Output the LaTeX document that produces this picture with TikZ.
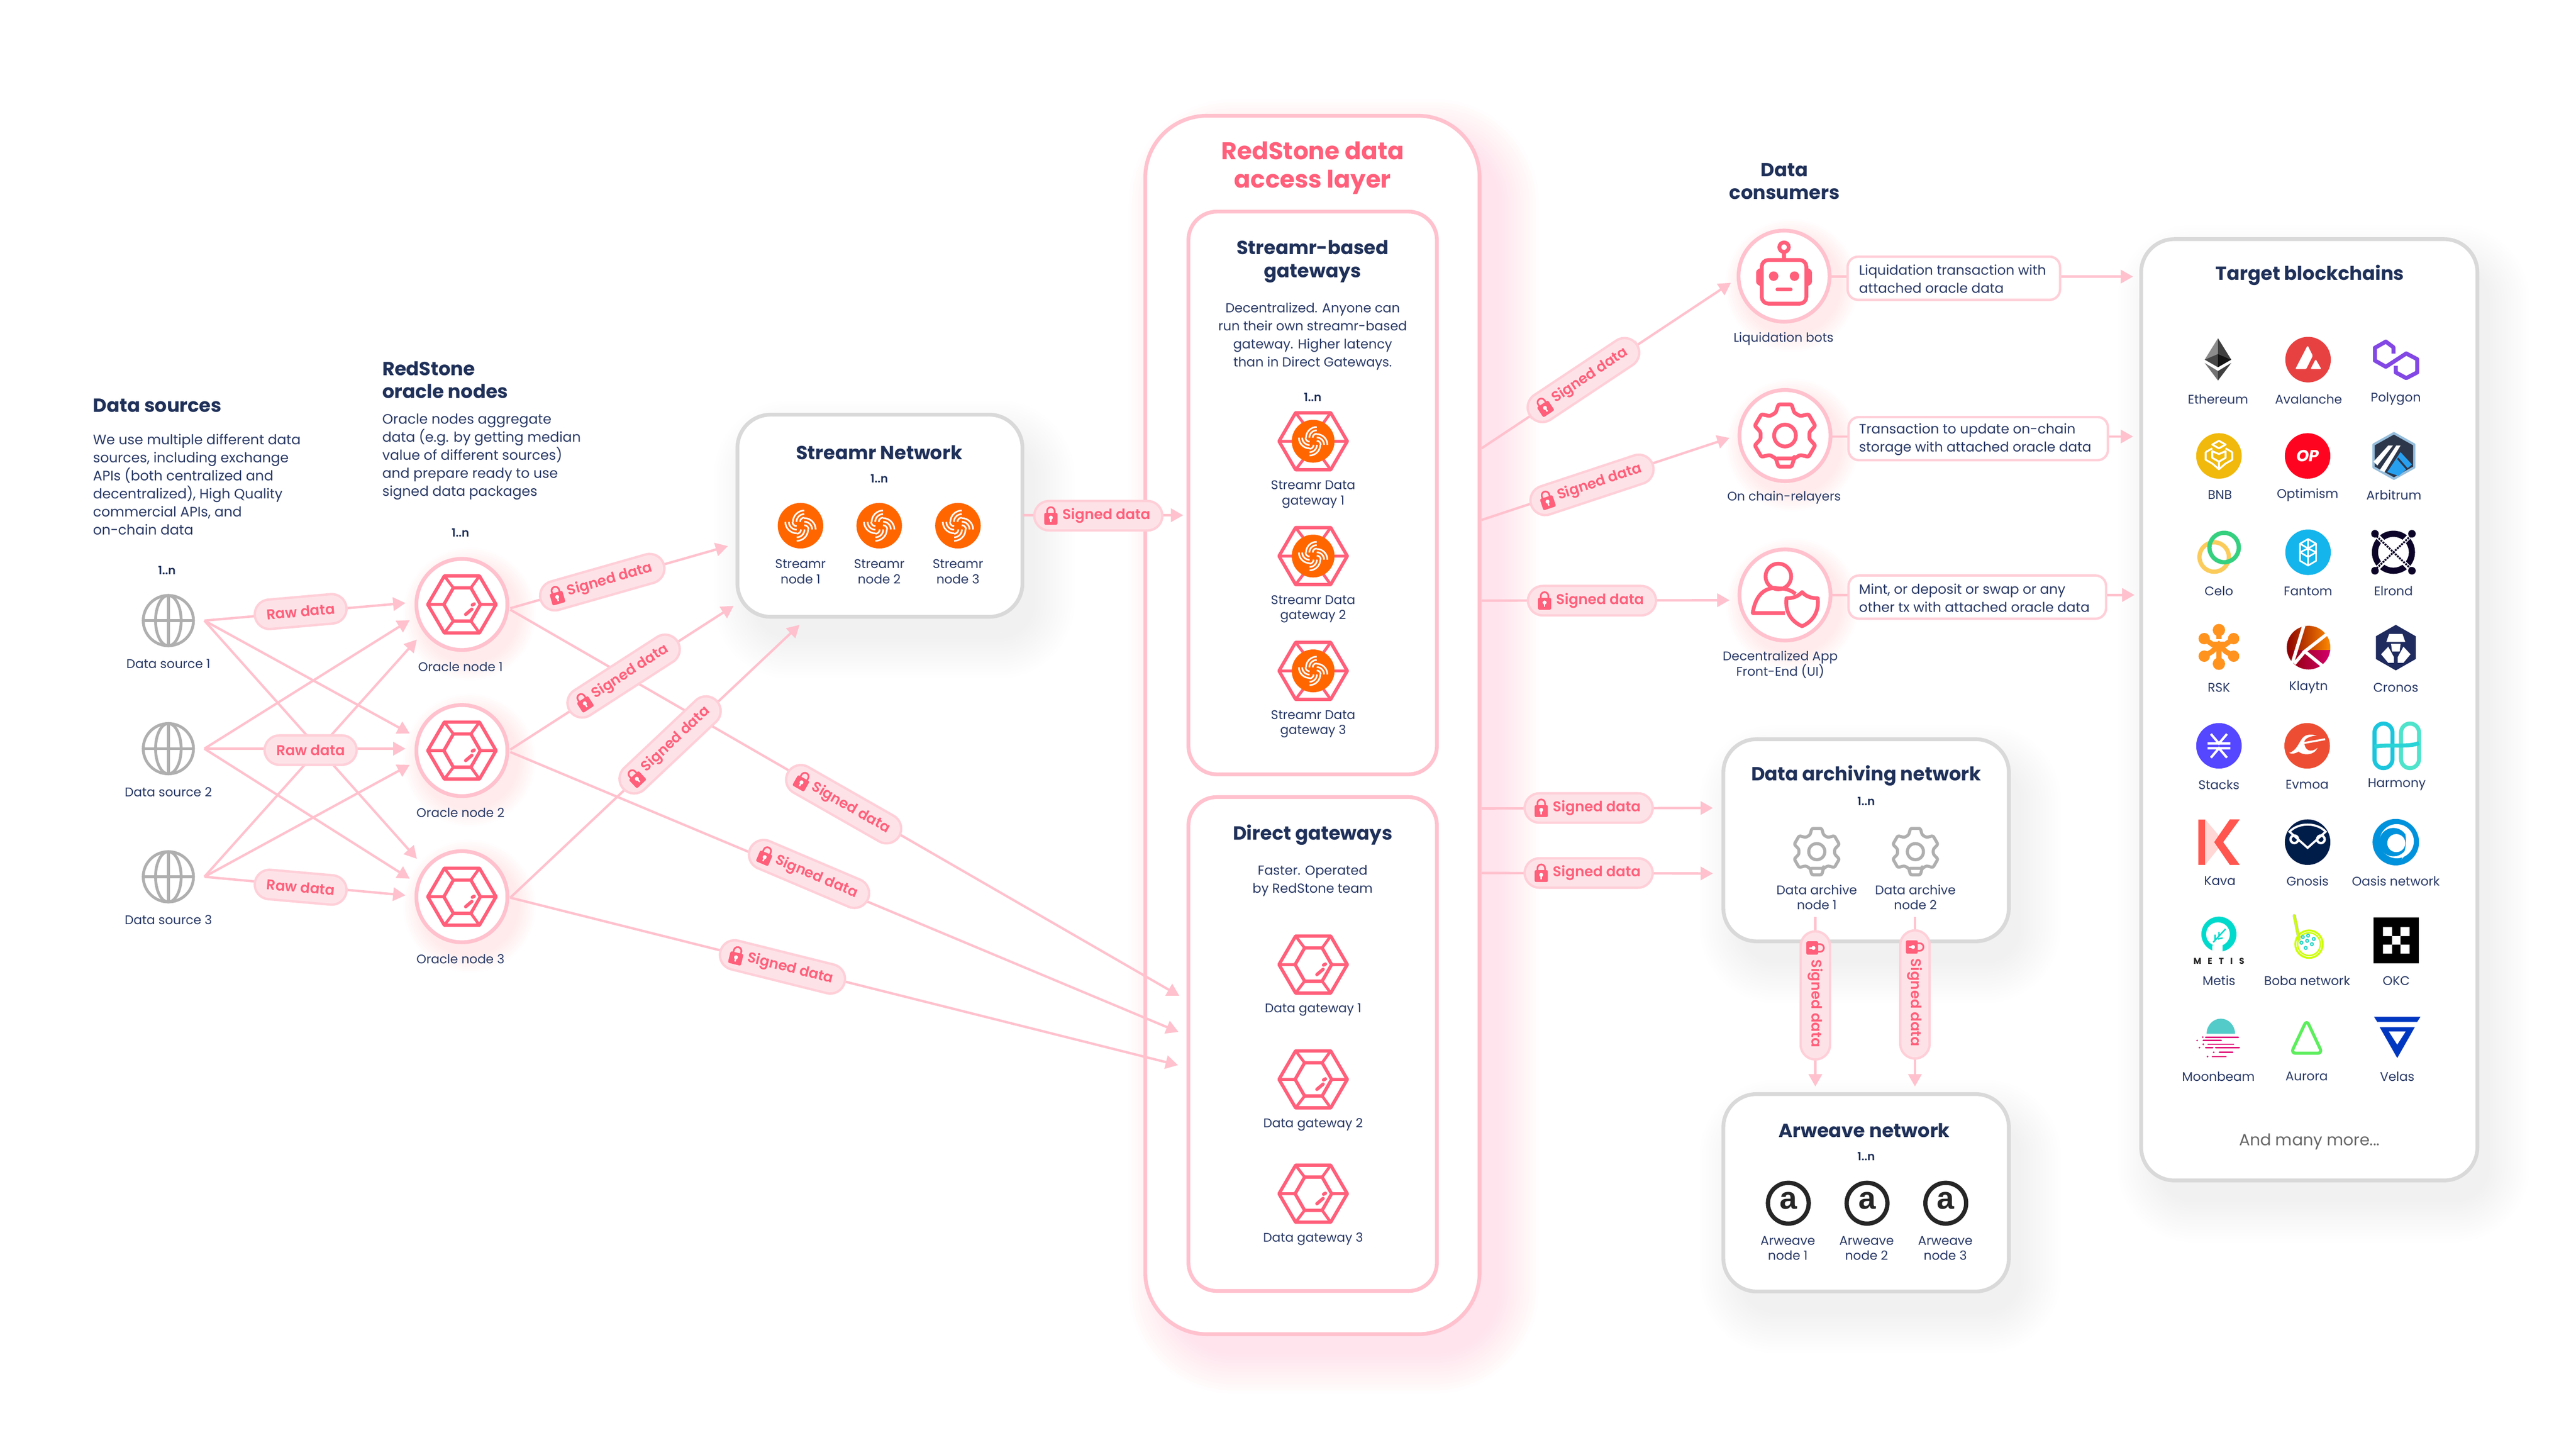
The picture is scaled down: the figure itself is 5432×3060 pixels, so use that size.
\documentclass[tikz,border=0pt]{standalone}
\usepackage{fontspec}
\setmainfont{Poppins}
\newfontfamily\psemi{Poppins SemiBold}
\newfontfamily\libsans{Liberation Sans}
\usetikzlibrary{arrows.meta,shapes.misc}
\definecolor{navy}{HTML}{1F3059}
\definecolor{bodyc}{HTML}{2A3A66}
\definecolor{pinkl}{HTML}{FFC1CD}
\definecolor{pinkf}{HTML}{FDE3E8}
\definecolor{pinkp}{HTML}{FFCFD8}
\definecolor{redm}{HTML}{FF5F7A}
\definecolor{grayb}{HTML}{D9D9D9}
\definecolor{grayi}{HTML}{AFAFAF}
\definecolor{orangex}{HTML}{FF6600}
\definecolor{HTML2D}{HTML}{2D374B}
\definecolor{HTMLA}{HTML}{8A0000}
\definecolor{HTMLB}{HTML}{FF8C00}
\definecolor{HTMLC}{HTML}{D4006E}
\newcommand\fs[2]{\fontsize{#1}{#2}\selectfont}
\newcommand\softbox[9]{% x1 y1 x2 y2 r color dx dy spread
  \foreach \i in {1,...,14}{%
    \pgfmathsetmacro\sprd{#9*\i/14-10}%
    \fill[#6,rounded corners={#5+\sprd+10}] (#1+#7-\sprd,#2+#8-\sprd) rectangle (#3+#7+\sprd,#4+#8+\sprd);%
  }}
\newcommand\softcirc[3]{% x y r
  \foreach \i in {1,...,10}{%
    \pgfmathsetmacro\sprd{#3+4*\i}%
    \fill[redm!70,opacity=.016] (#1+16,#2+20) circle[radius=\sprd];%
  }}
\tikzset{
  HTML/.code={\definecolor{tmpc}{HTML}{#1}\pgfkeysalso{/tikz/color=tmpc}},
  conn/.style={draw=pinkl,line width=5pt},
  arr/.style={conn,-{Triangle[length=26pt,width=28pt]}},
  pillbox/.style={draw=pinkp,fill=pinkf,line width=5pt,rounded corners=31pt,inner sep=0pt},
  pilltxt/.style={text=redm,font=\psemi\fs{30}{34},inner sep=0pt},
  ringnode/.style={circle,draw=pinkl,fill=white,line width=8pt,minimum size=192pt,inner sep=0pt},
  graybox/.style={draw=grayb,fill=white,line width=8pt,rounded corners=70pt},
  pinkbox/.style={draw=pinkl,fill=white,line width=8pt},
  ttl/.style={text=navy,font=\bfseries\fs{40}{48},align=center,inner sep=0pt},
  txt/.style={text=bodyc,font=\fs{29}{38},align=left,inner sep=0pt,yshift=-3pt},
  lbl/.style={text=bodyc,font=\fs{26.5}{32},align=center,inner sep=0pt,yshift=-1pt},
  num/.style={text=navy,font=\psemi\fs{24}{28},inner sep=0pt},
  descbox/.style={draw=pinkp,fill=white,line width=5pt,rounded corners=22pt,inner sep=0pt},
  pics/hexicon/.style={code={
    \draw[redm,line width=7pt,line join=round] (-72,0)--(-37,-60)--(37,-60)--(72,0)--(37,60)--(-37,60)--cycle;
    \draw[redm,line width=7pt,line join=round] (-38,0)--(-18,-35)--(19,-35)--(39,0)--(19,35)--(-18,35)--cycle;
    \draw[redm,line width=6pt] (-72,0)--(-38,0) (72,0)--(39,0) (-37,-60)--(-18,-35) (37,-60)--(19,-35) (-37,60)--(-18,35) (37,60)--(19,35);
    \draw[redm,line width=7pt,line cap=round] (8,21)--(21,10) (22,1)--(26,-1);
  }},
  pics/streamricon/.style={code={
    \fill[orangex] (0,0) circle[radius=48];
    \foreach \q in {0,90,180,270}{
      \begin{scope}[rotate=\q]
        \foreach \rr in {9,16.5,24}{\draw[white,line width=3.4pt] (8-\rr,-8) arc (180:270:\rr);}
      \end{scope}}
  }},
  pics/globeicon/.style={code={
    \draw[grayi,line width=6pt] (0,0) circle[radius=53];
    \draw[grayi,line width=6pt] (0,0) ellipse[x radius=27,y radius=53];
    \draw[grayi,line width=6pt] (0,-53)--(0,53) (-53,0)--(53,0);
  }},
  pics/lockicon/.style={code={
    \draw[redm,line width=3.6pt] (-8,-5)--(-8,-10) arc (180:360:8)--(8,-5);
    \fill[redm,rounded corners=3pt] (-14,-6) rectangle (14,19);
    \fill[white] (0,4) circle[radius=4.2];
    \draw[white,line width=3pt] (0,4)--(0,13);
  }},
  pics/robicon/.style={code={
    \draw[redm,line width=8pt] (0,-61) circle[radius=10] (0,-51)--(0,-36);
    \draw[redm,line width=8pt,rounded corners=14pt] (-47,-34) rectangle (47,58);
    \draw[redm,line width=8pt,rounded corners=3pt] (-47,-14)--(-55,-10)--(-55,14)--(-47,18) (47,-14)--(55,-10)--(55,14)--(47,18);
    \fill[redm] (-22,0) circle[radius=10] (22,0) circle[radius=10];
    \draw[redm,line width=8pt,line cap=round] (-14,28)--(14,28);
  }},
  pics/gearred/.style={code={
    \draw[redm,line width=8pt,line join=round,rounded corners=3pt] (68:52)
      \foreach \a in {90,150,...,450}{ -- (\a-22:52) -- (\a-12:67) -- (\a+12:67) -- (\a+22:52)} -- cycle;
    \draw[redm,line width=8pt] (0,0) circle[radius=23];
  }},
  pics/geargray/.style={code={
    \draw[grayi,line width=6.5pt,line join=round,rounded corners=3pt] (68:38)
      \foreach \a in {90,150,...,450}{ -- (\a-22:38) -- (\a-12:50) -- (\a+12:50) -- (\a+22:38)} -- cycle;
    \draw[grayi,line width=6.5pt] (0,0) circle[radius=17];
  }},
  pics/personicon/.style={code={
    \draw[redm,line width=8pt] (-14,-39) circle[radius=27];
    \draw[redm,line width=8pt,line join=round] (0,38)--(-68,38) .. controls (-62,-2) and (-40,-18) .. (-14,-14) .. controls (0,-14) and (14,-10) .. (22,-2);
    \draw[redm,line width=8pt,fill=white,line join=round] (36,-6) .. controls (44,3) and (55,7) .. (69,7) .. controls (72,35) and (60,55) .. (36,66) .. controls (12,55) and (0,35) .. (3,7) .. controls (17,7) and (28,3) .. (36,-6) -- cycle;
  }},
}
\newcommand\signedpill[4]{%
  \begin{scope}[shift={(#2,#3)},rotate=#4,transform shape]
    \node[pillbox,minimum width=270pt,minimum height=62pt] (#1) at (0,0) {};
    \pic at (-100,0) {lockicon};
    \node[pilltxt,anchor=west] (#1t) at (-76,0) {Signed data};
  \end{scope}}
\newcommand\rawpill[4]{%
  \begin{scope}[shift={(#2,#3)},rotate=#4,transform shape]
    \node[pillbox,minimum width=194pt,minimum height=62pt,pilltxt] (#1) at (0,0) {Raw data};
  \end{scope}}
\begin{document}
\begin{tikzpicture}[x=1pt,y=-1pt]
\useasboundingbox (0,0) rectangle (5432,3060);
\fill[white] (0,0) rectangle (5432,3060);
% ---------- shadows
\begin{scope}[opacity=.011]
  \softbox{2415}{244}{3120}{2812}{130}{redm!70}{45}{45}{90}
\end{scope}
\begin{scope}[opacity=.0042]
  \softbox{1555}{874}{2156}{1300}{70}{black}{30}{50}{90}
  \softbox{3634}{1558}{4236}{1984}{70}{black}{30}{50}{90}
  \softbox{3634}{2306}{4236}{2722}{70}{black}{30}{50}{90}
  \softbox{4515}{504}{5224}{2488}{70}{black}{30}{50}{90}
\end{scope}
\softcirc{974}{1274}{100}\softcirc{974}{1582}{100}\softcirc{974}{1890}{100}
\softcirc{3762}{582}{100}\softcirc{3764}{918}{100}\softcirc{3764}{1254}{100}
% ---------- containers
\node[draw=pinkl,fill=white,line width=8pt,rounded corners=130pt,minimum width=705pt,minimum height=2568pt,inner sep=0pt] (layer) at (2767.5,1528) {};
\node[pinkbox,rounded corners=60pt,minimum width=524pt,minimum height=1186pt,inner sep=0pt] (sgw) at (2768,1039) {};
\node[pinkbox,rounded corners=60pt,minimum width=524pt,minimum height=1041pt,inner sep=0pt] (dgw) at (2768,2200.5) {};
\node[graybox,minimum width=601pt,minimum height=426pt,inner sep=0pt] (snet) at (1855.5,1087) {};
\node[graybox,minimum width=602pt,minimum height=426pt,inner sep=0pt] (arch) at (3935,1771) {};
\node[graybox,minimum width=602pt,minimum height=416pt,inner sep=0pt] (arw) at (3935,2514) {};
\node[graybox,minimum width=709pt,minimum height=1984pt,inner sep=0pt] (tgt) at (4869.5,1496) {};
% ---------- coordinates
\coordinate (s1o) at (431,1308);\coordinate (s2o) at (431,1578);\coordinate (s3o) at (431,1848);
\coordinate (a11) at (855,1271);\coordinate (a12) at (864,1546);\coordinate (a13) at (879,1810);
\coordinate (a21) at (864,1307);\coordinate (a22) at (855,1578);\coordinate (a23) at (864,1852);
\coordinate (a31) at (879,1348);\coordinate (a32) at (864,1612);\coordinate (a33) at (855,1887);
\coordinate (o1a) at (1076,1282);\coordinate (o2a) at (1076,1580);\coordinate (o3a) at (1076,1892);
\coordinate (o1b) at (1076,1285);\coordinate (o2b) at (1076,1585);
\coordinate (t1) at (1535,1151);\coordinate (t2) at (1547,1277);\coordinate (t3) at (1686,1317);
\coordinate (g1) at (2487,2099);\coordinate (g2) at (2485,2175);\coordinate (g3) at (2484,2245);
\coordinate (sno) at (2156,1086);\coordinate (snt) at (2495,1086);
\coordinate (c1o) at (3124,945);\coordinate (c2o) at (3124,1096);\coordinate (c3o) at (3124,1266);\coordinate (c4o) at (3124,1704);\coordinate (c5o) at (3124,1840);
\coordinate (c1t) at (3650,596);\coordinate (c2t) at (3647,923);\coordinate (c3t) at (3647,1265);\coordinate (c4t) at (3612,1703);\coordinate (c5t) at (3612,1841);
\coordinate (d1o) at (3828,1933);\coordinate (d1t) at (3828,2290);\coordinate (d2o) at (4038,1933);\coordinate (d2t) at (4038,2290);
\coordinate (r1o) at (3860,583);\coordinate (r2o) at (3862,920);\coordinate (r3o) at (3862,1254);
\coordinate (r1t) at (4498,583);\coordinate (r2t) at (4498,920);\coordinate (r3t) at (4501,1254);
% ---------- connectors
\foreach \p/\q in {s1o/a11,s1o/a12,s1o/a13,s2o/a21,s2o/a22,s2o/a23,s3o/a31,s3o/a32,s3o/a33,o1a/t1,o2a/t2,o3a/t3,o1b/g1,o2b/g2,o3a/g3,sno/snt,c1o/c1t,c2o/c2t,c3o/c3t,c4o/c4t,c5o/c5t,d1o/d1t,d2o/d2t,r1o/r1t,r2o/r2t,r3o/r3t}
  {\draw[arr] (\p) -- (\q);}
% ---------- left column
\node[ttl,anchor=west,align=left] (tds) at (196,855) {Data sources};
\node[txt,anchor=west] (bds) at (196,1018) {We use multiple different data\\sources, including exchange\\APIs (both centralized and\\decentralized), High Quality\\commercial APIs, and\\on-chain data};
\node[ttl,anchor=west,align=left] (tor) at (806,801) {RedStone\\oracle nodes};
\node[txt,anchor=west] (bor) at (806,960) {Oracle nodes aggregate\\data (e.g. by getting median\\value of different sources)\\and prepare ready to use\\signed data packages};
\node[num] (n1) at (352,1202) {1..n};
\node[num] (n2) at (971,1123) {1..n};
\pic at (355,1308) {globeicon};\pic at (355,1578) {globeicon};\pic at (355,1848) {globeicon};
\node[lbl] (ls1) at (355,1398) {Data source 1};
\node[lbl] (ls2) at (355,1668) {Data source 2};
\node[lbl] (ls3) at (355,1938) {Data source 3};
\rawpill{rp1}{634}{1289}{5}
\rawpill{rp2}{655}{1581}{0}
\rawpill{rp3}{634}{1870}{-5}
\node[ringnode] (o1) at (974,1274) {};\node[ringnode] (o2) at (974,1582) {};\node[ringnode] (o3) at (974,1890) {};
\pic at (974,1274) {hexicon};\pic at (974,1582) {hexicon};\pic at (974,1890) {hexicon};
\node[lbl] (lo1) at (971,1404) {Oracle node 1};
\node[lbl] (lo2) at (971,1712) {Oracle node 2};
\node[lbl] (lo3) at (971,2020) {Oracle node 3};
\signedpill{spa}{1270}{1227}{15.9}
\signedpill{spb}{1315}{1425}{32.8}
\signedpill{spc}{1413}{1570}{43.3}
\signedpill{spd}{1779}{1695}{-29.7}
\signedpill{spe}{1706}{1842}{-23}
\signedpill{spf}{1650}{2038}{-14}
% ---------- Streamr network
\node[ttl] (tsn) at (1854,954) {Streamr Network};
\node[num] (n3) at (1854,1009) {1..n};
\pic at (1688,1108) {streamricon};\pic at (1854,1108) {streamricon};\pic at (2020,1108) {streamricon};
\node[lbl] (sn1) at (1688,1204) {Streamr\\node 1};
\node[lbl] (sn2) at (1854,1204) {Streamr\\node 2};
\node[lbl] (sn3) at (2020,1204) {Streamr\\node 3};
\signedpill{spg}{2316}{1087}{0}
% ---------- access layer
\node[text=redm,font=\bfseries\fs{51}{59},align=center,inner sep=0pt] (tl) at (2768,354) {RedStone data\\access layer};
\node[ttl,font=\bfseries\fs{40}{49}] (tsg) at (2768,551) {Streamr-based\\gateways};
\node[lbl,font=\fs{27.5}{38}] (bsg) at (2768,708) {Decentralized. Anyone can\\run their own streamr-based\\gateway. Higher latency\\than in Direct Gateways.};
\node[num] (n4) at (2768,837) {1..n};
\foreach \yy/\ii in {930/1,1172/2,1414/3}{
  \pic at (2769,\yy) {hexicon};
  \pic[scale=.94] at (2769,\yy) {streamricon};
  \node[lbl] (sgl\ii) at (2769,\yy+111) {Streamr Data\\gateway \ii};
}
\node[ttl] (tdg) at (2768,1760) {Direct gateways};
\node[lbl,font=\fs{27.5}{38}] (bdg) at (2768,1856) {Faster. Operated\\by RedStone team};
\foreach \yy/\ii in {2033/1,2275/2,2516/3}{
  \pic at (2769,\yy) {hexicon};
  \node[lbl] (dgl\ii) at (2769,\yy+94) {Data gateway \ii};
}
% ---------- consumers
\signedpill{sph}{3339}{801}{33.6}
\signedpill{spi}{3357}{1022}{18.3}
\signedpill{spj}{3357}{1266}{0}
\signedpill{spk}{3350}{1703}{0}
\signedpill{spl}{3350}{1840}{0}
\node[ttl] (tdc) at (3763,382) {Data\\consumers};
\node[ringnode] (c1) at (3762,582) {};\node[ringnode] (c2) at (3764,918) {};\node[ringnode] (c3) at (3764,1254) {};
\pic at (3762,582) {robicon};\pic at (3764,918) {gearred};\pic at (3764,1254) {personicon};
\node[lbl] (lc1) at (3761,713) {Liquidation bots};
\node[lbl] (lc2) at (3762,1048) {On chain-relayers};
\node[lbl] (lc3) at (3754,1400) {Decentralized App\\Front-End (UI)};
\node[descbox,minimum width=448pt,minimum height=91pt] (b1) at (4120,586.5) {};
\node[descbox,minimum width=547pt,minimum height=91pt] (b2) at (4171.5,924.5) {};
\node[descbox,minimum width=543pt,minimum height=91pt] (b3) at (4169.5,1258.5) {};
\node[lbl,anchor=west,align=left,font=\fs{28.5}{38}] (bt1) at (3920,587) {Liquidation transaction with\\attached oracle data};
\node[lbl,anchor=west,align=left,font=\fs{28.5}{38}] (bt2) at (3920,925) {Transaction to update on-chain\\storage with attached oracle data};
\node[lbl,anchor=west,align=left,font=\fs{28.5}{38}] (bt3) at (3920,1259) {Mint, or deposit or swap or any\\other tx with attached oracle data};
% ---------- archiving
\node[ttl] (tar) at (3935,1635) {Data archiving network};
\node[num] (n5) at (3935,1689) {1..n};
\pic at (3831,1795) {geargray};\pic at (4039,1795) {geargray};
\node[lbl] (ar1) at (3831,1890) {Data archive\\node 1};
\node[lbl] (ar2) at (4039,1890) {Data archive\\node 2};
\signedpill{spm}{3828}{2098}{-90}
\signedpill{spn}{4038}{2096}{-90}
\node[ttl] (twv) at (3931,2382) {Arweave network};
\node[num] (n6) at (3935,2437) {1..n};
\foreach \xx/\ii in {3771/1,3937/2,4103/3}{
  \node[circle,draw=black!85,fill=white,line width=9pt,minimum size=86pt,inner sep=0pt] (aw\ii) at (\xx,2536) {};
  \node[text=black!85,font=\libsans\bfseries\fs{66}{66},inner sep=0pt] (awt\ii) at (\xx,2531) {a};
  \node[lbl] (awl\ii) at (\xx-1,2630) {Arweave\\node \ii};
}
% ---------- blockchains
\node[ttl] (ttg) at (4871,580) {Target blockchains};
\foreach \nm/\xx/\yy/\tx in {a/4677/840/Ethereum,b/4868/840/Avalanche,c/5052/840/Polygon,d/4681/1042/BNB,e/4866/1042/Optimism,f/5048/1042/Arbitrum,g/4679/1245/Celo,h/4867/1245/Fantom,i/5047/1245/Elrond,j/4679/1448/RSK,k/4868/1448/Klaytn,l/5052/1448/Cronos,m/4679/1653/Stacks,n/4865/1653/Evmoa,o/5054/1653/Harmony,p/4681/1856/Kava,q/4866/1856/Gnosis,r/5052/1856/Oasis network,s/4679/2066/Metis,t/4865/2066/Boba network,u/5053/2066/OKC,v/4678/2268/Moonbeam,w/4864/2268/Aurora,x/5055/2268/Velas}
  {\node[lbl] (ch\nm) at (\xx,\yy) {\tx};}
\node[text=black!60,font=\fs{34}{38},inner sep=0pt] (tmore) at (4870,2406) {And many more...};
% Ethereum
\begin{scope}[shift={(4677,758)}]
  \fill[black!45] (0,-45)--(-28,0)--(0,-12)--cycle; \fill[black!75] (0,-45)--(28,0)--(0,-12)--cycle;
  \fill[black!72] (0,-12)--(-28,0)--(0,16)--cycle; \fill[black!92] (0,-12)--(28,0)--(0,16)--cycle;
  \fill[black!55] (-28,7)--(0,44)--(0,24)--cycle; \fill[black!75] (28,7)--(0,44)--(0,24)--cycle;
\end{scope}
% Avalanche
\begin{scope}[shift={(4867,758)}]
  \fill[HTML=E84142] (0,0) circle[radius=48];
  \fill[white,rounded corners=2pt] (-27,20)--(-1,-30)--(10,-8)--(-4,20)--cycle;
  \fill[white,rounded corners=2pt] (5,20)--(16,-1)--(28,20)--cycle;
\end{scope}
% Polygon
\begin{scope}[shift={(5052,758)}]
  \draw[HTML=8247E5,line width=8.5pt,line join=round] (-5,-13)--(-5,-26)--(-21,-38)--(-44,-25)--(-44,2)--(-21,15)--(22,-13)--(45,-1)--(45,27)--(22,39)--(0,27)--(0,13);
\end{scope}
% BNB
\begin{scope}[shift={(4679,961)}]
  \fill[HTML=F0B90B] (0,0) circle[radius=48];
  \draw[white,line width=4pt,line join=round] (0,-32)--(14,-24)--(0,-16)--(-14,-24)--cycle;
  \draw[white,line width=4pt,line join=round] (-28,-8)--(-28,8)--(-14,16) (28,-8)--(28,8)--(14,16) (-28,-8)--(-14,-16) (28,-8)--(14,-16);
  \draw[white,line width=4pt,line join=round] (0,-4)--(-14,-10)--(-14,4)--(0,12)--(14,4)--(14,-10)--cycle (0,12)--(0,28) (-14,16)--(0,28)--(14,16);
\end{scope}
% Optimism
\begin{scope}[shift={(4866,961)}]
  \fill[HTML=FF0420] (0,0) circle[radius=48];
  \node[text=white,font=\bfseries\itshape\fs{34}{34},inner sep=0pt] (opl) at (0,0) {OP};
\end{scope}
% Arbitrum
\begin{scope}[shift={(5048,961)}]
  \draw[HTML=96BEDC,fill=HTML2D,line width=5pt,line join=round] (0,-48)--(43,-24)--(43,24)--(0,48)--(-43,24)--(-43,-24)--cycle;
  \fill[white] (-43,12)--(-12,-22)--(-2,-22)--(-35,20)--cycle;
  \fill[white] (-30,30)--(5,-22)--(14,-22)--(-20,34)--cycle;
  \fill[HTML=28A0F0] (-14,34)--(14,-8)--(38,18)--(10,42)--cycle;
  \draw[HTML2D,line width=4pt] (8,5)--(28,28);
\end{scope}
% Celo
\begin{scope}[shift={(4679,1164)}]
  \draw[HTML=FBCC5C,line width=9pt] (-10,10) circle[radius=31];
  \draw[HTML=35D07F,line width=9pt] (11,-10) circle[radius=31];
\end{scope}
% Fantom
\begin{scope}[shift={(4867,1164)}]
  \fill[HTML=13B5EC] (0,0) circle[radius=48];
  \draw[white,line width=3.5pt,line join=round] (0,-28)--(17,-18)--(17,18)--(0,28)--(-17,18)--(-17,-18)--cycle (-17,-18)--(0,-8)--(17,-18) (-17,0)--(0,10)--(17,0)--(0,-8)--cycle (0,-28)--(0,28);
\end{scope}
% Elrond
\begin{scope}[shift={(5047,1164)}]
  \draw[HTML=0D0529,line width=13pt] (0,0) circle[radius=39];
  \draw[white,line width=10pt] (-40,-40)--(40,40) (-40,40)--(40,-40);
  \draw[HTML=0D0529,line width=4pt,dotted] (-40,-38)--(40,38) (-40,38)--(40,-38);
  \fill[HTML=0D0529] (-39,-39) circle[radius=8] (39,-39) circle[radius=8] (-39,39) circle[radius=8] (39,39) circle[radius=8];
\end{scope}
% RSK
\begin{scope}[shift={(4679,1365)}]
  \draw[HTML=FF931E,line width=11pt] (0,-37)--(0,-18) (-31,-19)--(-14,-7)--(14,-7)--(31,-19) (-31,18)--(-14,8)--(0,-7)--(14,8)--(31,18) (0,34)--(0,-7);
  \fill[HTML=FF931E] (0,-37) circle[radius=13] (-31,-19) circle[radius=12] (31,-19) circle[radius=12] (-31,18) circle[radius=12] (31,18) circle[radius=12] (0,34) circle[radius=13];
\end{scope}
% Klaytn
\begin{scope}[shift={(4868,1365)}]
  \begin{scope}
    \clip (0,0) circle[radius=46];
    \shade[left color=HTMLA,right color=HTMLB] (-48,-48) rectangle (48,6);
    \shade[left color=HTMLA,right color=HTMLC] (-48,6) rectangle (48,48);
  \end{scope}
  \draw[white,line width=7pt] (-10,-46)--(-34,32) (38,-28)--(-8,8)--(36,44) (-8,8)--(-30,34);
\end{scope}
% Cronos
\begin{scope}[shift={(5052,1365)}]
  \fill[HTML=1F2A5E] (0,-48)--(42,-24)--(42,24)--(0,48)--(-42,24)--(-42,-24)--cycle;
  \fill[white] (-14,-29)--(14,-29)--(20,-12)--(-20,-12)--cycle;
  \fill[white] (-10,-8)--(10,-8)--(8,8)--(-8,8)--cycle;
  \fill[white] (-16,-2)--(-31,14)--(-16,32)--(-4,32)--(-4,20)--cycle;
  \fill[white] (16,-2)--(31,14)--(16,32)--(4,32)--(4,20)--cycle;
\end{scope}
% Stacks
\begin{scope}[shift={(4679,1572)}]
  \fill[HTML=5546FF] (0,0) circle[radius=48];
  \draw[white,line width=5pt] (-24,-5)--(24,-5) (-24,5)--(24,5) (-17,-25)--(0,-5)--(17,-25) (-17,25)--(0,5)--(17,25);
\end{scope}
% Evmos
\begin{scope}[shift={(4865,1572)}]
  \fill[HTML=ED4E33] (0,0) circle[radius=48];
  \fill[white] (-38,15) .. controls (-22,10) and (-18,-6) .. (-10,-16) .. controls (-2,-26) and (10,-24) .. (20,-22) .. controls (5,-20) and (-5,-16) .. (-6,-8) .. controls (-6,10) and (8,16) .. (22,4) .. controls (14,22) and (-10,20) .. (-18,12) .. controls (-24,16) and (-32,18) .. (-38,15) -- cycle;
  \draw[white,line width=4pt] (-12,-5)--(38,-14);
\end{scope}
% Harmony
\begin{scope}[shift={(5054,1572)}]
  \draw[HTML=1BC6DD,line width=8.5pt,rounded corners=19pt] (-47,-47) rectangle (-9,47);
  \draw[HTML=4FE3CB,line width=8.5pt,rounded corners=19pt] (9,-47) rectangle (47,47);
  \draw[HTML=2AD3D6,line width=8.5pt] (-47,2) .. controls (-25,-4) and (25,4) .. (47,-6);
\end{scope}
% Kava
\begin{scope}[shift={(4679,1775)}]
  \fill[HTML=FFD7D5] (-29,-48)--(5,-8)--(-10,0)--(-29,20)--cycle (-29,20)--(-10,0)--(8,2)--(-29,48)--cycle;
  \fill[HTML=FF564F] (-43,-48) rectangle (-29,48);
  \fill[HTML=FF564F] (44,-48)--(23,-48)--(-10,0)--(23,48)--(44,48)--(9,0)--cycle;
\end{scope}
% Gnosis
\begin{scope}[shift={(4866,1775)}]
  \fill[HTML=001D4A] (0,0) circle[radius=48];
  \draw[white,line width=4.5pt,line join=miter] (-38,-22) .. controls (-20,-42) and (20,-42) .. (38,-22) -- (0,12) -- cycle;
  \draw[white,line width=5pt] (-28,-6) circle[radius=8] (28,-6) circle[radius=8];
\end{scope}
% Oasis
\begin{scope}[shift={(5052,1775)}]
  \fill[HTML=0092DC] (0,0) circle[radius=49];
  \fill[white] (2,-2) circle[radius=36];
  \fill[HTML=0092DC] (-5,0) circle[radius=30];
  \fill[white] (1,2) circle[radius=19];
  \fill[white] (14,-36) .. controls (34,-26) and (34,16) .. (12,36) .. controls (24,14) and (24,-18) .. (14,-36) -- cycle;
\end{scope}
% Metis
\begin{scope}[shift={(4679,1982)}]
  \fill[HTML=00DACC] (0,-13) circle[radius=37];
  \fill[white] (-2,-13) circle[radius=25];
  \fill[white] (-14,10) rectangle (8,26);
  \draw[HTML=00DACC,line width=3pt] (-12,4)--(14,-24) (-8,-12)--(-8,-1) (0,-18)--(0,-8) (-2,-3)--(8,-5);
  \node[text=black!85,font=\bfseries\fs{18}{18}\addfontfeature{LetterSpace=75},inner sep=0pt] (mtx) at (0,44) {METIS};
\end{scope}
% Boba
\begin{scope}[shift={(4865,1982)}]
  \draw[HTML=CCFF00,line width=4pt] (4,8) circle[radius=29];
  \draw[HTML=CCFF00,line width=3pt] (4,8) circle[radius=24];
  \draw[black!20,line width=7pt,line cap=round] (-27,-52)--(-17,-2);
  \draw[HTML=CCFF00,line width=5pt,line cap=round] (-27,-52)--(-17,-2);
  \foreach \px/\py in {-9/-7,2/-10,14/-3,-12/5,0/1,10/8,-3/16}{\draw[HTML=30D5C8,line width=2.5pt] (\px,\py) circle[radius=3];}
\end{scope}
% OKC
\begin{scope}[shift={(5053,1982)}]
  \fill[black] (-48,-48) rectangle (48,48);
  \fill[white] (-28,-28) rectangle (-9,-9) (9,-28) rectangle (28,-9) (-9,-9) rectangle (9,9) (-28,9) rectangle (-9,28) (9,9) rectangle (28,28);
\end{scope}
% Moonbeam
\begin{scope}[shift={(4678,2186)}]
  \fill[HTML=53CBC9] (-25,-7) arc (180:360:30 and 32) -- cycle;
  \draw[HTML=E1147B,line width=3pt,line cap=round] (-27,0)--(42,0) (-32,7)--(6,7) (-22,15)--(32,15) (-27,22)--(-12,22) (-6,22)--(44,22) (2,32)--(30,32) (-13,41)--(16,41);
  \fill[HTML=E1147B] (-33,-0) circle[radius=2] (-45,7) circle[radius=2] (-32,15) circle[radius=2] (-40,22) circle[radius=2] (-10,32) circle[radius=2] (-23,41) circle[radius=2];
\end{scope}
% Aurora
\begin{scope}[shift={(4864,2186)}]
  \draw[HTML=5CEE5C,line width=6.5pt,line join=round,rounded corners=10pt] (0,-36)--(33,34)--(-33,34)--cycle;
\end{scope}
% Velas
\begin{scope}[shift={(5055,2186)}]
  \fill[HTML=0037C1] (-49,-43)--(49,-43)--(42,-32)--(-42,-32)--cycle;
  \fill[HTML=0037C1,even odd rule] (-37,-21)--(37,-21)--(0,44)--cycle (-18,-12)--(18,-12)--(0,16)--cycle;
\end{scope}
\end{tikzpicture}
\end{document}
